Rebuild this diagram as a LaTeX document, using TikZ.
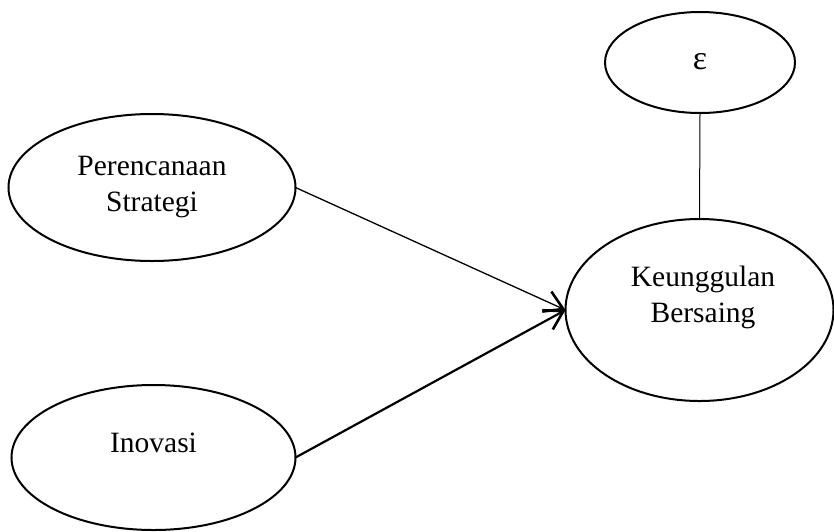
\documentclass[tikz,border=0pt]{standalone}
\usepackage{fontspec}
\setmainfont{Liberation Serif}
\usetikzlibrary{shapes.geometric,arrows.meta}
\begin{document}
\begin{tikzpicture}[x=1pt,y=1pt,
  ell/.style={draw,ellipse,line width=2pt,inner sep=0pt,outer sep=0pt},
  txt/.style={align=center,inner sep=0pt,font=\fontsize{29.5}{36}\selectfont},
  arr/.style={-{Straight Barb[length=18pt,width=22pt,line width=2.6pt]}}]
\useasboundingbox (0,0) rectangle (834,-531);
\node[ell,minimum width=287pt,minimum height=147pt] (ps) at (152,-187.5) {};
\node[txt] (pst) at (152,-187) {Perencanaan\\Strategi};
\node[ell,minimum width=284pt,minimum height=145pt] (in) at (153.5,-457.5) {};
\node[txt] (int) at (153.5,-443) {Inovasi};
\node[ell,minimum width=268pt,minimum height=182pt] (kb) at (699.5,-310) {};
\node[txt] (kbt) at (703,-297) {Keunggulan\\Bersaing};
\node[ell,minimum width=190pt,minimum height=101pt] (ep) at (700,-62.5) {};
\node[txt,font=\fontsize{34}{36}\selectfont] (ept) at (700,-62) {ε};
\draw[line width=1.3pt,arr] (ps.east) -- (kb.west);
\draw[line width=2.2pt,arr] (in.east) -- (kb.west);
\draw[line width=1pt] (ep.south) -- (kb.north);
\end{tikzpicture}
\end{document}
